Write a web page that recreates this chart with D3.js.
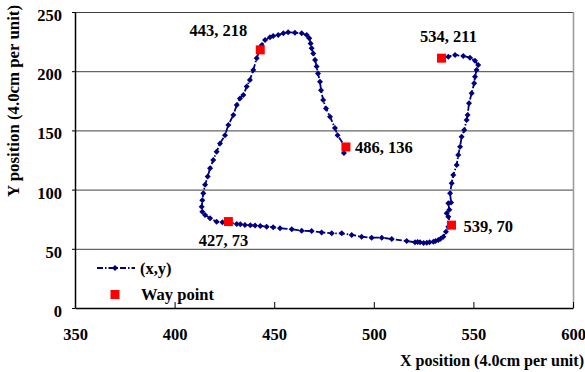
<!DOCTYPE html>
<html><head><meta charset="utf-8">
<script src="https://cdn.jsdelivr.net/npm/d3@7"></script>
<style>body{margin:0;background:#fff}svg{display:block}text{font-family:"Liberation Serif","Times New Roman",serif;font-weight:bold}</style>
</head><body>
<svg id="c" width="585" height="372"></svg>
<script>
// trajectory (x,y) in data units
const pathX = [485,485.7,481.8,480.5,478,476,474.6,473.5,473,472,471.3,470.5,469.6,468.8,468.3,467.6,466.3,463.8,460.4,457,454.6,452,449.5,447.9,445.4,443.7,442.9,
 441.2,439.5,437.8,436.2,434.5,432.8,431.2,429.5,427,425.3,422.8,421.1,419.4,417.8,416.6,415.3,414.4,413.9,413.6,413.9,415.3,417.8,421.1,424,426.6,
 431.2,433,435.3,438,440.4,443,446.2,449.5,452.9,458.8,463.8,468.8,473.8,478.9,483.9,488.9,493.9,498.9,504,509,516.5,520.7,522,523.2,525,526.6,528,529.9,531,532.4,533.5,534.9,536.2,537.4,538.8,
 537.4,536.6,537.9,537.4,538.8,538.3,539.1,539.9,541.6,542.4,543.3,544.1,545.4,546.6,547.1,547.8,549.1,550.4,550.8,551.6,552.4,550.8,548.3,544.9,540.8,537.4,533.6];
const pathY = [131,136,146,152,161.6,168.6,175.7,184,191,198,204,209.5,215,219.3,223.5,227.8,230.6,232,232.5,232.8,232,230.6,229.7,228.6,226.4,222,218.5,
 211,201,192.6,187,180,177,171.5,163,154.6,146,139,132,125,118,111,104,97,91,85.6,81.3,78.5,75.8,72.9,72.5,72.4,
 71,70.7,70.1,69.8,69.6,69.2,68.7,68.3,67.3,66.5,65.3,65,63.8,63.1,63.1,61.7,60.2,59.4,59.4,58.3,56.6,55.5,55.8,55.5,55,55.2,55.6,56,56.6,57.4,58.5,60.2,64.4,68.7,70.1,
 77,80,83,88.4,89,97,105.3,112.3,120.8,129.2,136.2,144.7,150.3,158.8,163,172.9,181.3,189.8,195.4,201,205.2,208.9,211.4,212.8,213.7,212.3,210.9];
// way points
const wpX = [443,427,539,534,486];
const wpY = [218,73,70,211,136];
const wpLabels = ["443, 218","427, 73","539, 70","534, 211","486, 136"];
const xTicks = [350,400,450,500,550,600];
const yTicks = [0,50,100,150,200,250];
const legendLabels = ["(x,y)","Way point"];
const xTitle = "X position (4.0cm per unit)";
const yTitle = "Y position (4.0cm per unit)";

const svg = d3.select("#c");
const L=75, R=573, T=12, B=308;
const x = d3.scaleLinear().domain([350,600]).range([L,R]);
const y = d3.scaleLinear().domain([0,250]).range([B,T]);
const navy="#000080";

// gridlines
svg.append("g").selectAll("line").data(yTicks.filter(d=>d>0)).join("line")
  .attr("x1",L).attr("x2",R).attr("y1",d=>y(d)+0.5).attr("y2",d=>y(d)+0.5)
  .attr("stroke","#404040").attr("stroke-width",1);
// right border
svg.append("line").attr("x1",R+0.5).attr("x2",R+0.5).attr("y1",T).attr("y2",B)
  .attr("stroke","#999").attr("stroke-width",1.5);

// axes
const xAxis = svg.append("g").attr("transform",`translate(0,${B})`)
  .call(d3.axisBottom(x).tickValues(xTicks).tickSizeInner(-6).tickSizeOuter(0).tickPadding(20));
xAxis.select(".domain").attr("stroke","#000").attr("stroke-width",1.5);
xAxis.selectAll(".tick line").attr("stroke","#000");
xAxis.selectAll("text").attr("font-size",16.5).attr("fill","#000").attr("font-family","Liberation Serif").attr("font-weight","bold");

const yAxis = svg.append("g").attr("transform",`translate(${L},0)`)
  .call(d3.axisLeft(y).tickValues(yTicks).tickSizeInner(3).tickSizeOuter(0).tickPadding(10));
yAxis.select(".domain").attr("stroke","#000").attr("stroke-width",1.5);
yAxis.selectAll(".tick line").attr("stroke","#000");
yAxis.selectAll("text").attr("font-size",16.5).attr("fill","#000").attr("dy","0.52em").attr("font-family","Liberation Serif").attr("font-weight","bold");

// titles
svg.append("text").attr("x",584).attr("y",366).attr("text-anchor","end")
  .attr("font-size",16).attr("textLength",184).attr("lengthAdjust","spacingAndGlyphs").text(xTitle);
svg.append("text").attr("transform","translate(19,101) rotate(-90)").attr("text-anchor","middle")
  .attr("font-size",16).attr("textLength",192).attr("lengthAdjust","spacingAndGlyphs").text(yTitle);

// trajectory line
const pts = pathX.map((d,i)=>[d,pathY[i]]);
svg.append("path").datum(pts)
  .attr("d",d3.line().x(d=>x(d[0])).y(d=>y(d[1])))
  .attr("fill","none").attr("stroke",navy).attr("stroke-width",1.8)
  .attr("stroke-dasharray","6,2,1.5,2");
const diamond = "M0,-3L3,0L0,3L-3,0Z";
svg.append("g").selectAll("path").data(pts).join("path")
  .attr("transform",d=>`translate(${x(d[0])},${y(d[1])})`).attr("d",diamond).attr("fill",navy);

// way points
const wps = wpX.map((d,i)=>[d,wpY[i]]);
svg.append("g").selectAll("rect").data(wps).join("rect")
  .attr("x",d=>x(d[0])-4.5).attr("y",d=>y(d[1])-4.5).attr("width",9).attr("height",9).attr("fill","#ff0000");
const lblOff = [[-13,-14,"end"],[-5,24,"middle"],[12,7,"start"],[7,-16,"middle"],[9,6,"start"]];
svg.append("g").selectAll("text").data(wps).join("text")
  .attr("x",(d,i)=>x(d[0])+lblOff[i][0]).attr("y",(d,i)=>y(d[1])+lblOff[i][1])
  .attr("text-anchor",(d,i)=>lblOff[i][2]).attr("font-size",16.5).attr("fill","#000")
  .text((d,i)=>wpLabels[i]);

// legend
const lg = svg.append("g");
lg.append("line").attr("x1",97).attr("x2",135).attr("y1",268).attr("y2",268)
  .attr("stroke",navy).attr("stroke-width",1.8).attr("stroke-dasharray","6,2,1.5,2");
lg.append("path").attr("transform","translate(115,268)").attr("d",diamond).attr("fill",navy);
lg.append("text").attr("x",140).attr("y",274).attr("font-size",16.5).text(legendLabels[0]);
lg.append("rect").attr("x",110.5).attr("y",290).attr("width",9).attr("height",9).attr("fill","#ff0000");
lg.append("text").attr("x",141).attr("y",300).attr("font-size",16.5).text(legendLabels[1]);
</script>
</body></html>
